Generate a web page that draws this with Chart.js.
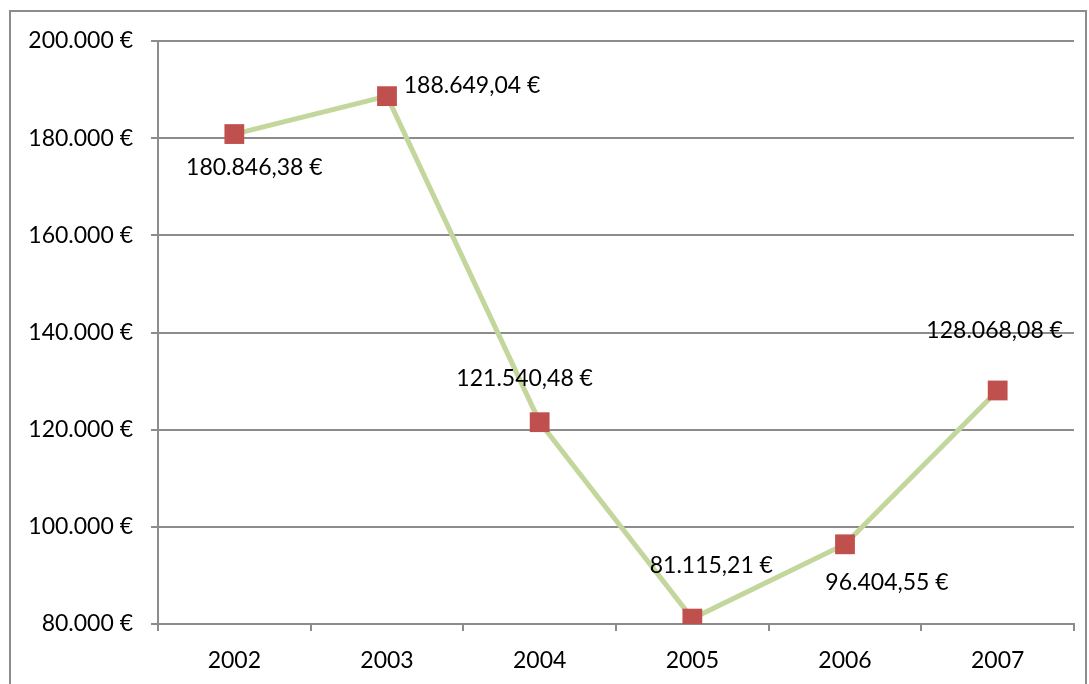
<!DOCTYPE html>
<html>
<head>
<meta charset="utf-8">
<script src="https://cdn.jsdelivr.net/npm/chart.js@4/dist/chart.umd.min.js"></script>
<style>
  html, body { margin: 0; padding: 0; background: #fff; }
  #wrap { width: 1089px; height: 684px; }
</style>
</head>
<body>
<div id="wrap"><canvas id="chart" width="1089" height="684"></canvas></div>
<script>
// Data
const years = ["2002", "2003", "2004", "2005", "2006", "2007"];
const amounts = [180846.38, 188649.04, 121540.48, 81115.21, 96404.55, 128068.08];
const yTicks = [80000, 100000, 120000, 140000, 160000, 180000, 200000];

const FONT = "Lato, 'Liberation Sans', sans-serif";
const FSIZE = 23;

// number formatting, German style
function euro(v, dec) {
  return v.toLocaleString("de-DE", { minimumFractionDigits: dec, maximumFractionDigits: dec }) + " €";
}

// label offsets (dx, dy) from the marker, like manually dragged Excel labels
const labelOffsets = [[20, 34], [85, -11], [-15, -44], [19, -53], [42, 38], [-3, -60]];

const frame = {
  id: "frame",
  beforeDraw(chart) {
    const c = chart.ctx;
    c.save();
    c.fillStyle = "#fff";
    c.fillRect(0, 0, chart.width, chart.height);
    c.strokeStyle = "#8c8c8c";
    c.lineWidth = 2;
    c.strokeRect(10, 11, 1076, 700);
    c.restore();
  }
};

const valueLabels = {
  id: "valueLabels",
  afterDatasetsDraw(chart) {
    const c = chart.ctx;
    const pts = chart.getDatasetMeta(0).data;
    c.save();
    c.font = FSIZE + "px " + FONT;
    c.fillStyle = "#000";
    c.textAlign = "center";
    c.textBaseline = "middle";
    pts.forEach((p, i) => {
      const [dx, dy] = labelOffsets[i];
      c.fillText(euro(amounts[i], 2), p.x + dx, p.y + dy);
    });
    c.restore();
  }
};

new Chart(document.getElementById("chart"), {
  type: "line",
  data: {
    labels: years,
    datasets: [{
      data: amounts,
      borderColor: "#c3d69b",
      borderWidth: 5,
      pointStyle: "rect",
      pointRadius: 14,
      pointHoverRadius: 14,
      pointBackgroundColor: "#c0504d",
      pointBorderColor: "#c0504d",
      pointBorderWidth: 0,
      tension: 0,
    }],
  },
  options: {
    responsive: false,
    animation: false,
    events: [],
    layout: { padding: { top: 41, right: 15, left: 0, bottom: 0 } },
    plugins: { legend: { display: false }, tooltip: { enabled: false } },
    scales: {
      x: {
        offset: true,
        grid: { offset: true, drawOnChartArea: false, drawTicks: true, tickLength: 7, color: "#8c8c8c", lineWidth: 2 },
        border: { color: "#8c8c8c", width: 2 },
        ticks: { color: "#000", font: { family: FONT, size: FSIZE }, padding: 16, maxRotation: 0 },
        afterFit: (s) => { s.height = 60; },
      },
      y: {
        min: 80000,
        max: 200000,
        afterBuildTicks: (s) => { s.ticks = yTicks.map((v) => ({ value: v })); },
        grid: { color: "#8c8c8c", lineWidth: 2, tickLength: 7 },
        border: { color: "#8c8c8c", width: 2 },
        ticks: { color: "#000", font: { family: FONT, size: FSIZE }, padding: 18, callback: (v) => euro(v, 0) },
        afterFit: (s) => { s.width = 158; },
      },
    },
  },
  plugins: [frame, valueLabels],
});
</script>
</body>
</html>
